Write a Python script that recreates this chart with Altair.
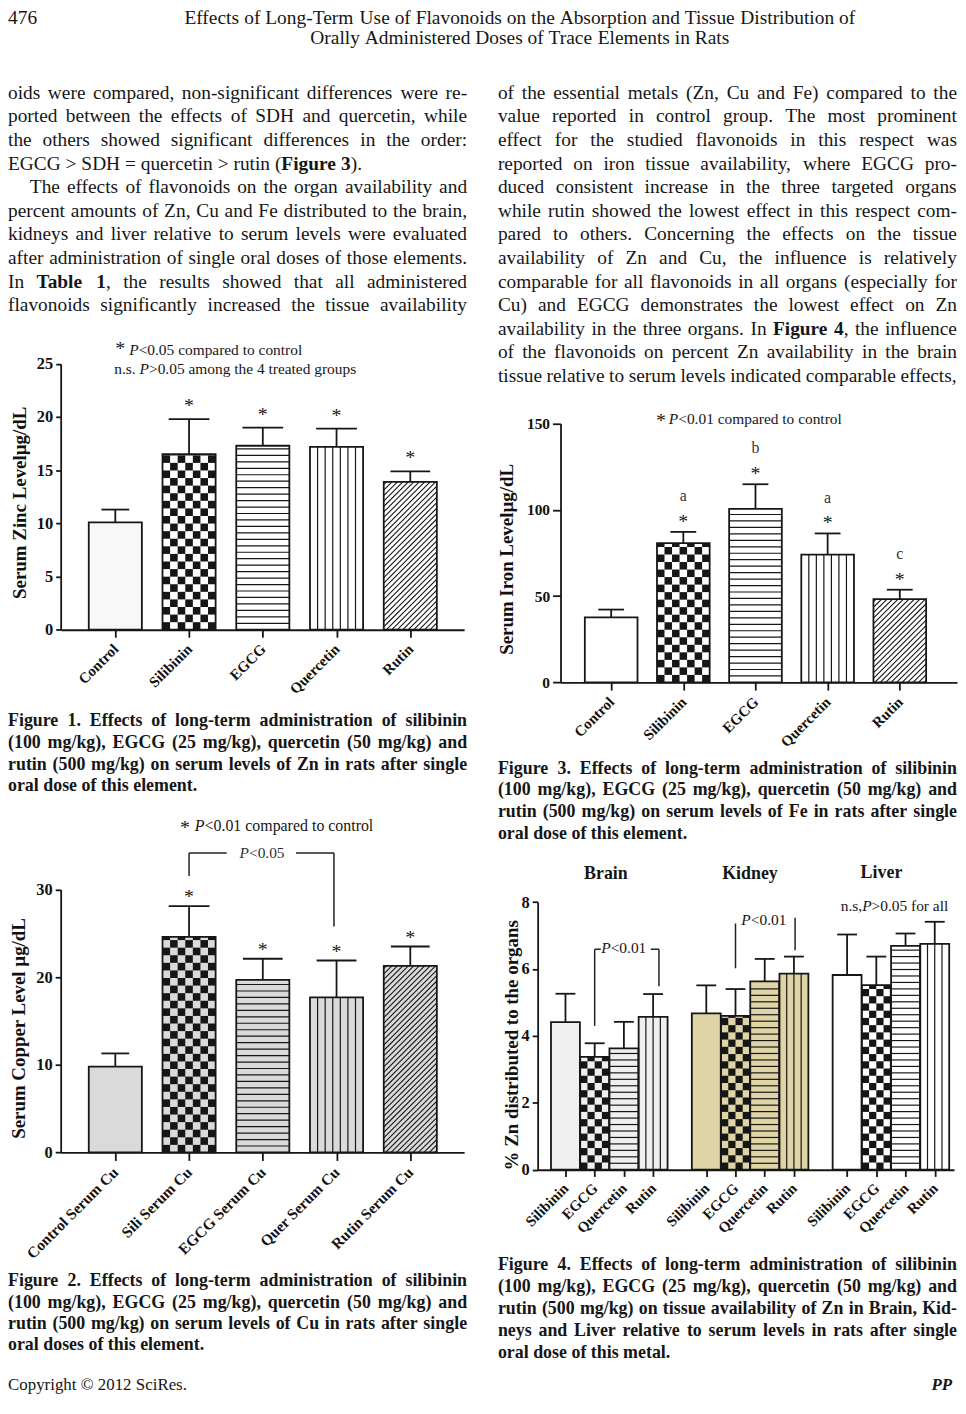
import math
import json
import altair as alt
import pandas as pd

# ------------------------------------------------------------------ page
PAGE_W, PAGE_H = 956, 1390
FONT = "Liberation Serif"
INK = "#161616"

# ------------------------------------------------------------------ data
fig1_groups = ["Control", "Silibinin", "EGCG", "Quercetin", "Rutin"]
fig1_mean = [10.1, 16.5, 17.3, 17.2, 13.9]
fig1_top = [11.3, 19.8, 19.0, 18.9, 14.9]
fig1_marks = ["", "*", "*", "*", "*"]

fig2_groups = ["Control Serum Cu", "Sili Serum Cu", "EGCG Serum Cu", "Quer Serum Cu", "Rutin Serum Cu"]
fig2_mean = [9.8, 24.6, 19.7, 17.7, 21.3]
fig2_top = [11.3, 28.1, 22.1, 21.9, 23.5]
fig2_marks = ["", "*", "*", "*", "*"]

fig3_groups = ["Control", "Silibinin", "EGCG", "Quercetin", "Rutin"]
fig3_mean = [37.7, 80.7, 100.5, 74.0, 48.3]
fig3_top = [42.2, 87.2, 114.8, 86.3, 53.7]
fig3_marks = ["", "*", "*", "*", "*"]
fig3_letters = ["", "a", "b", "a", "c"]

fig4_organs = ["Brain", "Kidney", "Liver"]
fig4_treatments = ["Silibinin", "EGCG", "Quercetin", "Rutin"]
fig4_brain_mean = [4.41, 3.37, 3.63, 4.57]
fig4_brain_top = [5.26, 3.78, 4.42, 5.25]
fig4_kidney_mean = [4.67, 4.60, 5.63, 5.86]
fig4_kidney_top = [5.51, 5.40, 6.30, 6.37]
fig4_liver_mean = [5.82, 5.52, 6.69, 6.75]
fig4_liver_top = [7.03, 6.37, 7.06, 7.41]

# significance brackets (data units: x1, y1, x2, y2)
fig2_bracket = [(1.0, 31.55, 1.0, 34.16), (1.0, 34.16, 1.51, 34.16),
                (2.45, 34.16, 2.965, 34.16), (2.965, 34.16, 2.965, 25.77)]
fig4_bracket = [(1.0, 4.30, 1.0, 6.59), (1.0, 6.59, 1.21, 6.59),
                (2.92, 6.59, 3.2, 6.59), (3.2, 6.59, 3.2, 5.48),
                (5.82, 6.02, 5.82, 7.36), (7.86, 6.56, 7.86, 7.53)]

# ------------------------------------------------------------------ texts
header_num = "476"
header_lines = ["Effects of Long-Term Use of Flavonoids on the Absorption and Tissue Distribution of",
                "Orally Administered Doses of Trace Elements in Rats"]
body_left = [
    "oids were compared, non-significant differences were re-",
    "ported between the effects of SDH and quercetin, while",
    "the others showed significant differences in the order:",
    "EGCG > SDH = quercetin > rutin (**Figure 3**).",
    "The effects of flavonoids on the organ availability and",
    "percent amounts of Zn, Cu and Fe distributed to the brain,",
    "kidneys and liver relative to serum levels were evaluated",
    "after administration of single oral doses of those elements.",
    "In **Table 1**, the results showed that all administered",
    "flavonoids significantly increased the tissue availability",
]
body_left_last = [3]
body_left_indent = [4]
body_right = [
    "of the essential metals (Zn, Cu and Fe) compared to the",
    "value reported in control group. The most prominent",
    "effect for the studied flavonoids in this respect was",
    "reported on iron tissue availability, where EGCG pro-",
    "duced consistent increase in the three targeted organs",
    "while rutin showed the lowest effect in this respect com-",
    "pared to others. Concerning the effects on the tissue",
    "availability of Zn and Cu, the influence is relatively",
    "comparable for all flavonoids in all organs (especially for",
    "Cu) and EGCG demonstrates the lowest effect on Zn",
    "availability in the three organs. In **Figure 4**, the influence",
    "of the flavonoids on percent Zn availability in the brain",
    "tissue relative to serum levels indicated comparable effects,",
]
cap1 = ["Figure 1. Effects of long-term administration of silibinin",
        "(100 mg/kg), EGCG (25 mg/kg), quercetin (50 mg/kg) and",
        "rutin (500 mg/kg) on serum levels of Zn in rats after single",
        "oral dose of this element."]
cap2 = ["Figure 2. Effects of long-term administration of silibinin",
        "(100 mg/kg), EGCG (25 mg/kg), quercetin (50 mg/kg) and",
        "rutin (500 mg/kg) on serum levels of Cu in rats after single",
        "oral doses of this element."]
cap3 = ["Figure 3. Effects of long-term administration of silibinin",
        "(100 mg/kg), EGCG (25 mg/kg), quercetin (50 mg/kg) and",
        "rutin (500 mg/kg) on serum levels of Fe in rats after single",
        "oral dose of this element."]
cap4 = ["Figure 4. Effects of long-term administration of silibinin",
        "(100 mg/kg), EGCG (25 mg/kg), quercetin (50 mg/kg) and",
        "rutin (500 mg/kg) on tissue availability of Zn in Brain, Kid-",
        "neys and Liver relative to serum levels in rats after single",
        "oral dose of this metal."]
footer_left = "Copyright \u00a9 2012 SciRes."
footer_right = "PP"

# ------------------------------------------------------------------ Times metrics
_TR = {}
for chars, w in [(" ", 250), ("!", 333), ('"', 408), ("#$0123456789*_", 500), ("%", 833), ("&", 778),
                 ("'()[]`-", 333), (",.", 250), ("/:;|\\", 278), ("+<=>", 564), ("?", 444), ("@", 921),
                 ("ADGHKNOQUVXY", 722), ("BCR", 667), ("ELTZ", 611), ("FPS", 556), ("I", 333), ("J", 389),
                 ("M", 889), ("W", 944), ("ace", 444), ("bdghknopquvxy", 500), ("fr", 333), ("ijlt", 278),
                 ("m", 778), ("s", 389), ("w", 722), ("z", 444), ("\u00a9", 760), ("\u00b5", 500)]:
    for ch in chars:
        _TR[ch] = w
_TB = {}
for chars, w in [(" ", 250), ("()-", 333), (",.", 250), ("/", 278), ("0123456789*", 500), (":", 333),
                 ("%", 1000), ("<=>", 570), ("ACNUVXY", 722), ("BE", 667), ("D", 722), ("F", 611),
                 ("GHKO", 778), ("I", 389), ("J", 500), ("L", 667), ("M", 944), ("P", 611), ("Q", 778),
                 ("R", 722), ("S", 556), ("T", 667), ("W", 1000), ("Z", 667), ("a", 500), ("bdhknpqu", 556),
                 ("ce", 444), ("f", 333), ("gvxy", 500), ("ilt", 278), ("j", 333), ("m", 833), ("o", 500),
                 ("r", 444), ("s", 389), ("w", 722), ("z", 444), ("t", 333), ("\u00b5", 556)]:
    for ch in chars:
        _TB[ch] = w


def tw(s, style, fs):
    tab = _TB if style.startswith("bold") else _TR
    tot = 0
    for ch in s:
        if ch == "P" and style == "italic":
            tot += 611
        elif ch == "P" and style == "bolditalic":
            tot += 667
        else:
            tot += tab.get(ch, 500)
    return tot * fs / 1000.0


def parse_words(line, base):
    state = {"bold": base == "bold", "ital": base == "italic"}
    words = [[]]
    buf = [""]

    def style():
        b, i = state["bold"], state["ital"]
        return "bolditalic" if (b and i) else "bold" if b else "italic" if i else "normal"

    def flush():
        if buf[0]:
            words[-1].append((buf[0], style()))
            buf[0] = ""

    i = 0
    while i < len(line):
        if line.startswith("**", i):
            flush(); state["bold"] = not state["bold"]; i += 2; continue
        if line.startswith("__", i):
            flush(); state["ital"] = not state["ital"]; i += 2; continue
        ch = line[i]
        if ch == " ":
            flush()
            if words[-1]:
                words.append([])
        else:
            buf[0] += ch
        i += 1
    flush()
    return [w for w in words if w]


text_rows = []


def emit(line, x0, y, fs, width=None, base="normal", indent=0.0, align="left", color=INK):
    words = parse_words(line, base)
    ws = [sum(tw(t, s, fs) for t, s in w) for w in words]
    gap = 0.25 * fs
    if width is not None and len(words) > 1:
        gap = max(0.12 * fs, (width - indent - sum(ws)) / (len(words) - 1))
    total = sum(ws) + gap * (len(words) - 1)
    if align == "center":
        x = x0 - total / 2
    elif align == "right":
        x = x0 - total
    else:
        x = x0 + indent
    for w, wd in zip(words, ws):
        xx = x
        for t, s in w:
            text_rows.append(dict(x=round(xx, 2), y=y, t=t, size=fs, style=s, color=color))
            xx += tw(t, s, fs)
        x += wd + gap


# header
hdr_fs = 675.0 / (tw(header_lines[0], "normal", 1000) / 1000.0)
emit(header_num, 0, 12, hdr_fs)
emit(header_lines[0], 515, 12, hdr_fs, align="center")
emit(header_lines[1], 515, 32, hdr_fs, align="center")

# body text
BODY_FS, LEAD = 19.5, 23.75
LEFT_X, RIGHT_X, COL_W = 0.0, 493.0, 462.0
for k, line in enumerate(body_left):
    just = None if k in body_left_last else COL_W
    emit(line, LEFT_X, 87 + LEAD * k, BODY_FS, width=just,
         indent=22.0 if k in body_left_indent else 0.0)
for k, line in enumerate(body_right):
    emit(line, RIGHT_X, 87 + LEAD * k, BODY_FS, width=COL_W)

# captions
CAP_FS = 18.0
for cap, x0, y0, lead in [(cap1, LEFT_X, 718, 22.0), (cap2, LEFT_X, 1282, 21.5),
                          (cap3, RIGHT_X, 766, 22.0), (cap4, RIGHT_X, 1266, 22.0)]:
    for k, line in enumerate(cap):
        emit(line, x0, y0 + lead * k, CAP_FS, width=None if k == len(cap) - 1 else COL_W, base="bold")

# footer
emit(footer_left, 0, 1386, 17)
emit(footer_right, 950, 1386, 17, base="bold", align="right")
text_rows[-1]["style"] = "bolditalic"

# figure annotations
emit("*", 108, 345, 20)
emit("__P__<0.05 compared to control", 122, 345.3, 15.5)
emit("n.s. __P__>0.05 among the 4 treated groups", 107, 363.7, 15.5)
emit("*", 173, 827, 20)
emit("__P__<0.01 compared to control", 188, 823.7, 16)
emit("__P__<0.05", 233, 851.3, 15.5, color="#333333")
emit("*", 652, 417, 20)
emit("__P__<0.01 compared to control", 665, 414.7, 15.5)
emit("n.s,__P__>0.05 for all", 838, 904.3, 15.5)
emit("__P__<0.01", 597, 947, 15.5)
emit("__P__<0.01", 738, 918, 15.5)
for organ, cx, by in zip(fig4_organs, [601.7, 746.7, 879.0], [872, 872, 871]):
    emit(organ, cx, by, 18, base="bold", align="center")

# ------------------------------------------------------------------ bar geometry
CHECK, HSTEP, DSTEP = 7.4, 6.5, 5.5


def build_bars(centers, means, half, fills, patterns, kx, ky):
    fill_rows, pat_rows = [], []
    for c, v, fill, pat in zip(centers, means, fills, patterns):
        x0, x1 = c - half, c + half
        fill_rows.append(dict(x=x0, x2=x1, y=0.0, y2=v, color=fill))
        Wp, Hp = (x1 - x0) * kx, v * ky
        if pat == "checker":
            ncol = max(1, round(Wp / CHECK))
            cw = Wp / ncol
            nrow = math.ceil(Hp / cw)
            for r in range(nrow):
                for q in range(ncol):
                    if (r + q) % 2 == 0:
                        fill_rows.append(dict(x=x0 + q * cw / kx, x2=x0 + (q + 1) * cw / kx,
                                              y=r * cw / ky, y2=min((r + 1) * cw, Hp) / ky, color=INK))
        elif pat == "hline":
            k = 1
            while k * HSTEP < Hp - 2:
                yv = k * HSTEP / ky
                pat_rows.append(dict(x=x0, x2=x1, y=yv, y2=yv, color=INK, w=1.2))
                k += 1
        elif pat == "vline":
            ncol = max(1, round(Wp / CHECK))
            for q in range(1, ncol):
                xv = x0 + q * Wp / ncol / kx
                pat_rows.append(dict(x=xv, x2=xv, y=0.0, y2=v, color=INK, w=1.2))
        elif pat == "diag":
            cc = -Hp + DSTEP / 2
            while cc < Wp:
                us, ue = max(cc, 0.0), min(Wp, Hp + cc)
                if ue - us > 0.5:
                    pat_rows.append(dict(x=x0 + us / kx, x2=x0 + ue / kx, y=(us - cc) / ky,
                                         y2=(ue - cc) / ky, color=INK, w=1.1))
                cc += DSTEP
    return fill_rows, pat_rows


def axis_common():
    return dict(labelFont=FONT, labelFontWeight="bold", labelColor="#111111", tickColor=INK,
                domainColor=INK, domainWidth=1.8, tickWidth=1.8, grid=False, labelOverlap=False,
                labelFlush=False)


def figure(centers, means, tops, half, cap_px, fills, patterns, marks, mark_dy, xdom, xrng, ydom, yrng,
           xvalues, xlabels_expr, x_font, x_tick, yvalues, y_tick, ytitle, title_x, title_y,
           extra=(), letters=None, y_font=16.5):
    xs = alt.Scale(domain=xdom, range=xrng, nice=False, zero=False)
    ys = alt.Scale(domain=ydom, range=yrng, nice=False, zero=False)
    kx = (xrng[1] - xrng[0]) / (xdom[1] - xdom[0])
    ky = (yrng[0] - yrng[1]) / (ydom[1] - ydom[0])
    fill_rows, pat_rows = build_bars(centers, means, half, fills, patterns, kx, ky)
    err_rows = []
    for c, v, t, cp in zip(centers, means, tops, cap_px):
        err_rows.append(dict(x=c, x2=c, y=v, y2=t, color=INK, w=1.8))
        hw = cp / 2 / kx
        err_rows.append(dict(x=c - hw, x2=c + hw, y=t, y2=t, color=INK, w=1.8))
    for (a, b, c2, d) in extra:
        err_rows.append(dict(x=a, x2=c2, y=b, y2=d, color="#222222", w=1.5))

    def enc(df_mark, xaxis=None, yaxis=None):
        return df_mark.encode(
            x=alt.X("x:Q", scale=xs, axis=xaxis), x2="x2:Q",
            y=alt.Y("y:Q", scale=ys, axis=yaxis), y2="y2:Q")

    layers = []
    layers.append(enc(alt.Chart(pd.DataFrame(fill_rows)).mark_rect()).encode(
        color=alt.Color("color:N", scale=None, legend=None)))
    if pat_rows:
        layers.append(enc(alt.Chart(pd.DataFrame(pat_rows)).mark_rule(strokeCap="butt")).encode(
            color=alt.Color("color:N", scale=None, legend=None),
            strokeWidth=alt.StrokeWidth("w:Q", scale=None, legend=None)))
    outline = pd.DataFrame([dict(x=c - half, x2=c + half, y=0.0, y2=v) for c, v in zip(centers, means)])
    xaxis = alt.Axis(orient="bottom", offset=yrng[0] - PAGE_H, values=xvalues, labelExpr=xlabels_expr,
                     labelAngle=315, labelAlign="right", labelBaseline="middle", labelPadding=9,
                     labelFontSize=x_font, tickSize=x_tick, title=None, **axis_common())
    yaxis = alt.Axis(orient="left", offset=-xrng[0], values=yvalues, labelFontSize=y_font, tickSize=y_tick,
                     labelPadding=3, labelBaseline="middle", title=ytitle, titleX=title_x, titleY=title_y,
                     titleAngle=270, titleAlign="center", titleBaseline="middle", titleFont=FONT,
                     titleFontSize=19, titleFontWeight="bold", titleColor="#111111", **axis_common())
    layers.append(enc(alt.Chart(outline).mark_rect(fill="transparent", stroke=INK, strokeWidth=1.8),
                      xaxis, yaxis))
    layers.append(enc(alt.Chart(pd.DataFrame(err_rows)).mark_rule(strokeCap="butt")).encode(
        color=alt.Color("color:N", scale=None, legend=None),
        strokeWidth=alt.StrokeWidth("w:Q", scale=None, legend=None)))
    star_df = pd.DataFrame([dict(x=c, y=t, t=m) for c, t, m in zip(centers, tops, marks) if m])
    if len(star_df):
        layers.append(alt.Chart(star_df).mark_text(font=FONT, fontSize=20, align="center",
                                                   baseline="alphabetic", dy=mark_dy, color=INK).encode(
            x=alt.X("x:Q", scale=xs, axis=None), y=alt.Y("y:Q", scale=ys, axis=None), text="t:N"))
    if letters:
        let_df = pd.DataFrame([dict(x=c, y=t, t=m) for c, t, m in zip(centers, tops, letters) if m])
        layers.append(alt.Chart(let_df).mark_text(font=FONT, fontSize=16, align="center",
                                                  baseline="alphabetic", dy=mark_dy - 27,
                                                  color="#333333").encode(
            x=alt.X("x:Q", scale=xs, axis=None), y=alt.Y("y:Q", scale=ys, axis=None), text="t:N"))
    return layers


PAT5 = [None, "checker", "hline", "vline", "diag"]
idx5 = list(range(5))

layers = []
# Figure 1
layers += figure(idx5, fig1_mean, fig1_top, 0.36, [28, 41, 41, 41, 40], ["#f8f8f8"] + ["#ffffff"] * 4, PAT5,
                 fig1_marks, -7, [-0.741, 4.730], [53, 459], [0, 25], [621.3, 353.7],
                 idx5, json.dumps(fig1_groups) + "[round(datum.value)]", 15, 7.5,
                 [0, 5, 10, 15, 20, 25], 5, "Serum Zinc Level\u00b5g/dL", -41, 493)
# Figure 2
layers += figure(idx5, fig2_mean, fig2_top, 0.36, [28, 41, 40, 40, 39], ["#dadada"] * 5, PAT5,
                 fig2_marks, -3, [-0.741, 4.730], [53, 459], [0, 30], [1147.3, 882.7],
                 idx5, json.dumps(fig2_groups) + "[round(datum.value)]", 15.5, 8,
                 [0, 10, 20, 30], 5.5, "Serum Copper Level \u00b5g/dL", -42, 1022, extra=fig2_bracket)
# Figure 3
layers += figure(idx5, fig3_mean, fig3_top, 0.365, [26] * 5, ["#ffffff"] * 5, PAT5,
                 fig3_marks, -4, [-0.702, 4.793], [556, 955], [0, 150], [674.3, 413.7],
                 idx5, json.dumps(fig3_groups) + "[round(datum.value)]", 15, 7.7,
                 [0, 50, 100, 150], 8, "Serum Iron Level\u00b5g/dL", -54, 550, letters=fig3_letters,
                 y_font=15.5)
# Figure 4
pos4, mean4, top4, fill4, pat4 = [], [], [], [], []
organ_fill = ["#efefef", "#dfd4a6", "#ffffff"]
for g, (m, t) in enumerate([(fig4_brain_mean, fig4_brain_top), (fig4_kidney_mean, fig4_kidney_top),
                            (fig4_liver_mean, fig4_liver_top)]):
    for i in range(4):
        pos4.append(round(4 * g + i + 0.82 * g, 4))
        mean4.append(m[i])
        top4.append(t[i])
        fill4.append(organ_fill[g])
        pat4.append([None, "checker", "hline", "vline"][i])
labels12 = fig4_treatments * 3
layers += figure(pos4, mean4, top4, 0.495, [20] * 12, fill4, pat4, [""] * 12, -4,
                 [-0.952, 13.30], [533, 952], [0, 8], [1164.7, 895.3],
                 pos4, json.dumps(labels12) + "[round(datum.value - 0.82*floor(datum.value/4.82 + 0.01))]",
                 15, 6.7, [0, 2, 4, 6, 8], 5.5, "% Zn distributed to the organs", -26, 1039,
                 extra=fig4_bracket)

# text layers
tdf = pd.DataFrame(text_rows)
for style, weight, fstyle in [("normal", "normal", "normal"), ("bold", "bold", "normal"),
                              ("italic", "normal", "italic"), ("bolditalic", "bold", "italic")]:
    sub = tdf[tdf["style"] == style]
    if not len(sub):
        continue
    layers.append(alt.Chart(sub).mark_text(font=FONT, fontWeight=weight, fontStyle=fstyle, align="left",
                                           baseline="alphabetic").encode(
        x=alt.X("x:Q", scale=None, axis=None), y=alt.Y("y:Q", scale=None, axis=None),
        text="t:N", size=alt.Size("size:Q", scale=None, legend=None),
        color=alt.Color("color:N", scale=None, legend=None)))

chart = (alt.layer(*layers)
         .resolve_scale(x="independent", y="independent")
         .properties(width=PAGE_W, height=PAGE_H, autosize=alt.AutoSizeParams(type="none"), padding=0)
         .configure_view(stroke=None))

chart.save("out.html", embed_options={"renderer": "svg", "actions": False})
